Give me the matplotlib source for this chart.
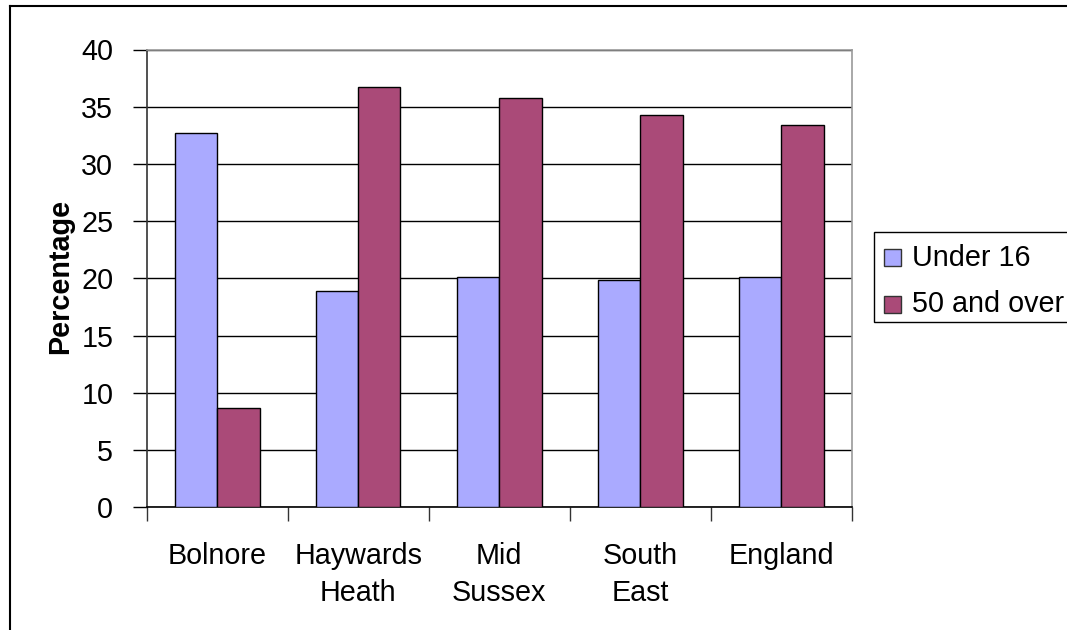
import matplotlib
matplotlib.use("Agg")
import matplotlib.pyplot as plt
import numpy as np
from matplotlib.lines import Line2D
from matplotlib.patches import Rectangle

categories = ["Bolnore", "Haywards\nHeath", "Mid\nSussex", "South\nEast", "England"]
series_names = ["Under 16", "50 and over"]
under16 = [32.7, 18.9, 20.1, 19.9, 20.1]
over50 = [8.7, 36.7, 35.8, 34.3, 33.4]
colors = ["#AAAAFF", "#AA4A78"]
yticks = [0, 5, 10, 15, 20, 25, 30, 35, 40]

plt.rcParams['font.family'] = ['Liberation Sans', 'DejaVu Sans']
FS = 20.7

fig = plt.figure(figsize=(10.67, 6.30), dpi=100)
ax = fig.add_axes([146.7/1067, 1-507.3/630, (851.7-146.7)/1067, (507.3-49.5)/630])

x = np.arange(len(categories))
w = 0.3
ax.bar(x - w/2, under16, w, color=colors[0], edgecolor="black", linewidth=1.0, zorder=3)
ax.bar(x + w/2, over50, w, color=colors[1], edgecolor="black", linewidth=1.0, zorder=3)

ax.set_xlim(-0.5, len(categories) - 0.5)
ax.set_ylim(0, 40)
ax.set_yticks(yticks)
ax.set_yticklabels([str(v) for v in yticks], fontsize=FS)
ax.yaxis.grid(True, color="black", linewidth=1.0, zorder=0)
ax.tick_params(axis="y", direction="out", length=10, width=1, pad=14, color="black")

ax.set_xticks(np.arange(len(categories) + 1) - 0.5)
ax.set_xticklabels([])
ax.tick_params(axis="x", which="major", direction="out", length=10, width=1, color="#333333")
ax.set_xticks(x, minor=True)
ax.set_xticklabels(categories, minor=True, fontsize=FS, linespacing=1.42)
ax.tick_params(axis="x", which="minor", length=0, pad=25)

for s in ["top", "right"]:
    ax.spines[s].set_color("#999999")
    ax.spines[s].set_linewidth(1.2)
ax.spines["left"].set_color("#333333")
ax.spines["bottom"].set_color("black")
ax.spines["left"].set_linewidth(1.2)
ax.spines["bottom"].set_linewidth(1.2)

fig.text(60/1067, 1-276/630, "Percentage", rotation=90, fontsize=FS, fontweight="bold",
         ha="center", va="center")

# legend
leg_ax_x0 = 874.3/1067
leg_y0 = 1-321.7/630
leg_y1 = 1-232.3/630
fig.patches.append(Rectangle((leg_ax_x0, leg_y0), 1.05 - leg_ax_x0, leg_y1 - leg_y0,
                             transform=fig.transFigure, facecolor="white",
                             edgecolor="black", linewidth=1.0))
for i, name in enumerate(series_names):
    yc = 1 - (258 + i*46)/630
    fig.patches.append(Rectangle((884/1067, yc - 8.5/630), 17/1067, 17/630,
                                 transform=fig.transFigure, facecolor=colors[i],
                                 edgecolor="#333333", linewidth=1.0))
    fig.text(912/1067, yc, name, fontsize=FS, ha="left", va="center")

# outer border (left and top visible)
fig.add_artist(Line2D([10/1067, 10/1067], [0, 1-6/630], transform=fig.transFigure,
                      color="black", linewidth=1.5))
fig.add_artist(Line2D([10/1067, 1], [1-6/630, 1-6/630], transform=fig.transFigure,
                      color="black", linewidth=1.5))

fig.savefig("out.png", dpi=100)
